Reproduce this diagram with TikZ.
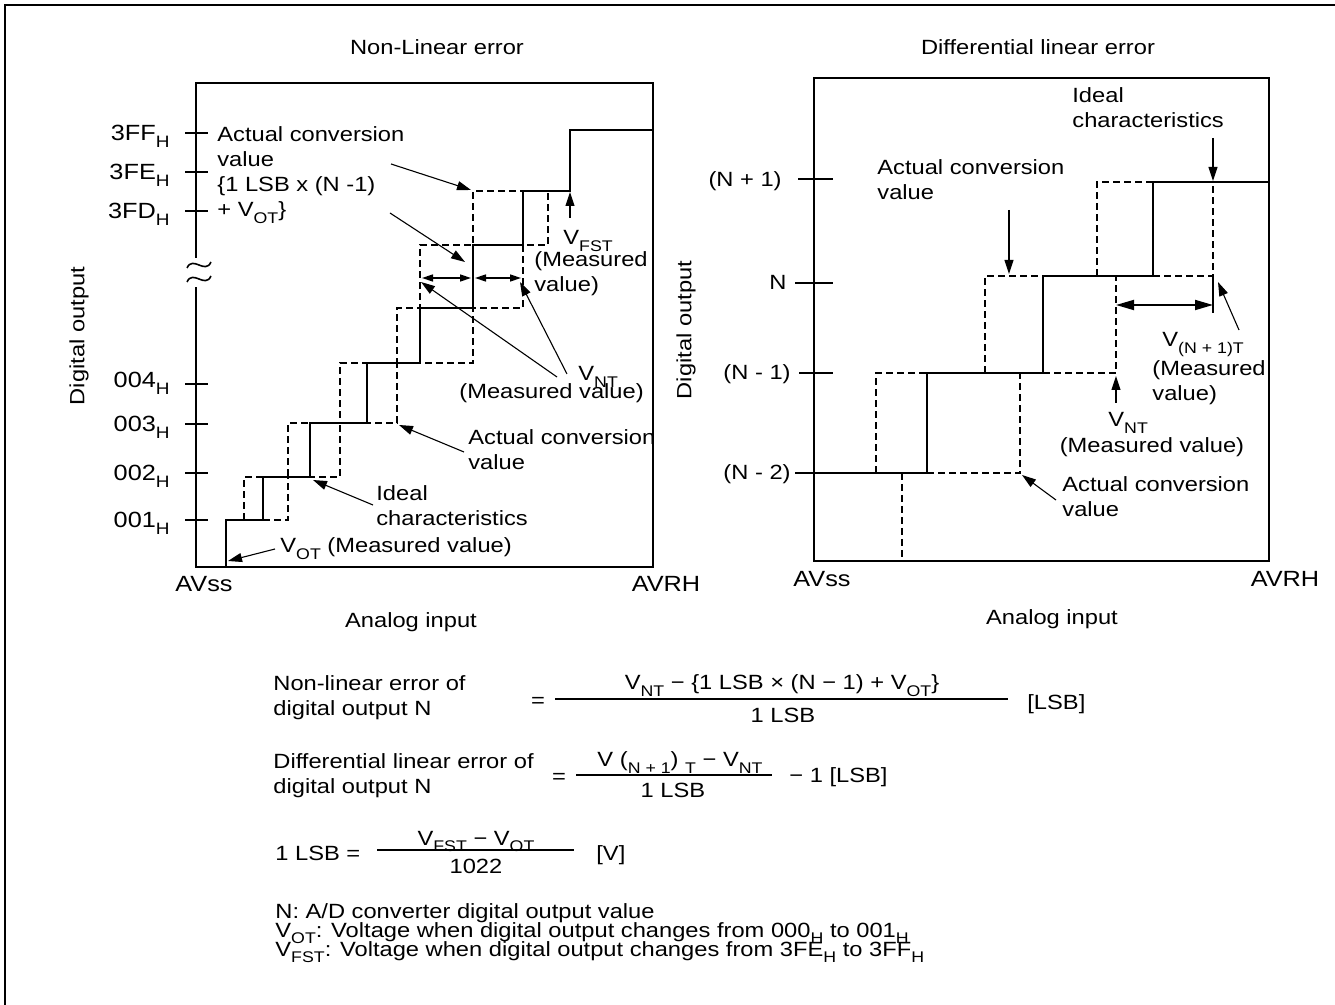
\documentclass[tikz,border=0pt]{standalone}
\usepackage{fontspec}
\setmainfont{Liberation Sans}[FakeStretch=1.15]
\usepackage{graphicx}
\usetikzlibrary{arrows.meta}

% sizes in pt: the picture runs at half a point per pixel
\newcommand{\lbltext}{\fontsize{10.3}{12.5}\selectfont}
\newcommand{\ticktext}{\fontsize{11}{13}\selectfont}
\newcommand{\sbs}[1]{\raisebox{-0.3em}{\scalebox{0.75}{#1}}}

\tikzset{
  frameline/.style={line width=1.2pt},
  plotbox/.style={line width=1.3pt},
  ideal/.style={line width=1.2pt},
  actual/.style={line width=0.9pt, dash pattern=on 3.5pt off 2pt},
  tickmark/.style={line width=1.2pt},
  pointer/.style={line width=0.55pt, -{Triangle[length=7pt,width=4.5pt]}},
  span/.style={line width=0.8pt, {Triangle[length=5.5pt,width=3.5pt]}-{Triangle[length=5.5pt,width=3.5pt]}},
  bigspan/.style={line width=0.9pt, {Triangle[length=9pt,width=5pt]}-{Triangle[length=9pt,width=5pt]}},
  lbl/.style={inner sep=0pt, font=\lbltext},
  ticklbl/.style={inner sep=0pt, font=\ticktext, anchor=base east},
}

\begin{document}
\begin{tikzpicture}[x=0.5pt,y=-0.5pt]
  \useasboundingbox (0,0) rectangle (1335,1005);
  \draw[frameline] (1335,5) -- (5,5) -- (5,1005);

  % ---------- Non-Linear error ----------
  \node[lbl, anchor=base] (nltitle) at (437,55) {Non-Linear error};
  \draw[plotbox] (196,258) -- (196,83) -- (653,83) -- (653,567) -- (196,567) -- (196,287);
  \foreach \c in {265,279}
    \draw[line width=0.8pt] (187,\c+3) .. controls (193,\c-10) and (205,\c+10) .. (211,\c-3);
  \foreach \y in {133,172,211,384,424,473,520}
    \draw[tickmark] (185,\y) -- (208,\y);
  \node[ticklbl] (nl3ff) at (170,141) {3FF\sbs{H}};
  \node[ticklbl] (nl3fe) at (170,180) {3FE\sbs{H}};
  \node[ticklbl] (nl3fd) at (170,219) {3FD\sbs{H}};
  \node[ticklbl] (nl004) at (170,388) {004\sbs{H}};
  \node[ticklbl] (nl003) at (170,432) {003\sbs{H}};
  \node[ticklbl] (nl002) at (170,481) {002\sbs{H}};
  \node[ticklbl] (nl001) at (170,528) {001\sbs{H}};
  \node[lbl, rotate=90] (nldigital) at (79,336) {Digital output};
  \node[ticklbl, anchor=base] (nlavss) at (204,592) {AVss};
  \node[ticklbl, anchor=base] (nlavrh) at (666,592) {AVRH};
  \node[lbl, anchor=base] (nlanalog) at (411,628) {Analog input};

  \draw[actual] (244,520) -- (244,477) -- (288,477) -- (288,423) -- (340,423) -- (340,363)
    -- (397,363) -- (397,308) -- (420,308) -- (420,245) -- (473,245) -- (473,191) -- (525,191);
  \draw[actual] (263,520) -- (288,520) -- (288,477) -- (340,477) -- (340,423) -- (397,423)
    -- (397,363) -- (473,363) -- (473,308) -- (523,308) -- (523,245) -- (548,245) -- (548,191);
  \draw[ideal] (226,567) -- (226,520) -- (263,520) -- (263,477) -- (310,477) -- (310,423)
    -- (367,423) -- (367,363) -- (420,363) -- (420,308) -- (473,308) -- (473,245)
    -- (523,245) -- (523,191) -- (570,191) -- (570,130) -- (653,130);

  % multi-line labels sit on their last baseline
  \node[lbl, anchor=base west, align=left] (nlactual) at (217,217)
    {Actual conversion\\value\\\{1 LSB x (N -1)\\+ V\sbs{OT}\}};
  \node[lbl, anchor=base west] (nlvfst) at (563,245) {V\sbs{FST}};
  \node[lbl, anchor=base west, align=left] (nlvfstm) at (534,292) {(Measured\\value)};
  \node[lbl, anchor=base west] (nlvnt) at (578,381) {V\sbs{NT}};
  \node[lbl, anchor=base west] (nlvntm) at (459,399) {(Measured value)};
  \node[lbl, anchor=base west, align=left] (nlactual2) at (468,470) {Actual conversion\\value};
  \node[lbl, anchor=base west, align=left] (nlideal) at (376,526) {Ideal\\characteristics};
  \node[lbl, anchor=base west] (nlvot) at (280,553) {V\sbs{OT} (Measured value)};

  \coordinate (nlp1s) at (391,164);  \coordinate (nlp1e) at (471,190);
  \coordinate (nlp2s) at (390,213);  \coordinate (nlp2e) at (465,262);
  \coordinate (nlw1) at (422,278);   \coordinate (nlw2) at (471,278);
  \coordinate (nlw3) at (475,278);   \coordinate (nlw4) at (521,278);
  \coordinate (nlq1s) at (557,377);  \coordinate (nlq1e) at (421,282);
  \coordinate (nlq2s) at (567,374);  \coordinate (nlq2e) at (520,282);
  \coordinate (nlfs) at (570,218);   \coordinate (nlfe) at (570,192);
  \coordinate (nlas) at (464,452);   \coordinate (nlae) at (399,425);
  \coordinate (nlis) at (373,505);   \coordinate (nlie) at (313,480);
  \coordinate (nlos) at (275,549);   \coordinate (nloe) at (228,561);
  \draw[pointer] (nlp1s) -- (nlp1e);
  \draw[pointer] (nlp2s) -- (nlp2e);
  \draw[span] (nlw1) -- (nlw2);
  \draw[span] (nlw3) -- (nlw4);
  \draw[pointer] (nlq1s) -- (nlq1e);
  \draw[pointer] (nlq2s) -- (nlq2e);
  \draw[pointer] (nlfs) -- (nlfe);
  \draw[pointer] (nlas) -- (nlae);
  \draw[pointer] (nlis) -- (nlie);
  \draw[pointer] (nlos) -- (nloe);

  % ---------- Differential linear error ----------
  \node[lbl, anchor=base] (dltitle) at (1038,55) {Differential linear error};
  \draw[plotbox] (814,78) rectangle (1269,561);
  \draw[tickmark] (798,179) -- (833,179);
  \draw[tickmark] (795,283) -- (833,283);
  \draw[tickmark] (799,373) -- (833,373);
  \node[lbl, anchor=base east] (dlnp1) at (782,187) {(N + 1)};
  \node[lbl, anchor=base east] (dln) at (787,290) {N};
  \node[lbl, anchor=base east] (dlnm1) at (791,380) {(N - 1)};
  \node[lbl, anchor=base east] (dlnm2) at (791,480) {(N - 2)};
  \node[lbl, rotate=90] (dldigital) at (686,330) {Digital output};
  \node[ticklbl, anchor=base] (dlavss) at (822,587) {AVss};
  \node[ticklbl, anchor=base] (dlavrh) at (1285,587) {AVRH};
  \node[lbl, anchor=base] (dlanalog) at (1052,625) {Analog input};

  \draw[actual] (876,473) -- (876,373) -- (927,373);
  \draw[actual] (902,473) -- (902,561);
  \draw[actual] (927,473) -- (1020,473) -- (1020,373);
  \draw[actual] (985,373) -- (985,276) -- (1043,276);
  \draw[actual] (1043,373) -- (1116,373) -- (1116,276);
  \draw[actual] (1097,276) -- (1097,182) -- (1153,182);
  \draw[actual] (1153,276) -- (1213,276) -- (1213,182);
  \draw[ideal] (795,473) -- (927,473) -- (927,373) -- (1043,373) -- (1043,276) -- (1153,276);
  \draw[line width=0.6pt] (1153,276) -- (1153,182);
  \draw[ideal] (1153,182) -- (1269,182);
  \draw[line width=1pt] (1213,276) -- (1213,313);

  \node[lbl, anchor=base west, align=left] (dlideal) at (1072,128) {Ideal\\characteristics};
  \node[lbl, anchor=base west, align=left] (dlactual) at (877,200) {Actual conversion\\value};
  \node[lbl, anchor=base west] (dlvn1) at (1162,347) {V\sbs{(N + 1)T}};
  \node[lbl, anchor=base west, align=left] (dlvn1m) at (1152,401) {(Measured\\value)};
  \node[lbl, anchor=base west] (dlvnt) at (1108,427) {V\sbs{NT}};
  \node[lbl, anchor=base] (dlvntm) at (1152,453) {(Measured value)};
  \node[lbl, anchor=base west, align=left] (dlactual2) at (1062,517) {Actual conversion\\value};

  \coordinate (dlis) at (1213,138);  \coordinate (dlie) at (1213,181);
  \coordinate (dlas) at (1009,210);  \coordinate (dlae) at (1009,274);
  \coordinate (dlw1) at (1116,305);  \coordinate (dlw2) at (1213,305);
  \coordinate (dlqs) at (1239,330);  \coordinate (dlqe) at (1218,282);
  \coordinate (dlts) at (1116,403);  \coordinate (dlte) at (1116,376);
  \coordinate (dlbs) at (1056,500);  \coordinate (dlbe) at (1022,475);
  \draw[pointer] (dlis) -- (dlie);
  \draw[pointer] (dlas) -- (dlae);
  \draw[bigspan] (dlw1) -- (dlw2);
  \draw[pointer] (dlqs) -- (dlqe);
  \draw[pointer] (dlts) -- (dlte);
  \draw[pointer] (dlbs) -- (dlbe);

  % ---------- formulas ----------
  \node[lbl, anchor=base west, align=left] (fnl) at (273,716) {Non-linear error of\\digital output N};
  \node[lbl] (fnleq) at (538,702) {=};
  \draw[line width=1pt] (555,699) -- (1008,699);
  \node[lbl, anchor=base] (fnlnum) at (782,690) {V\sbs{NT} − \{1 LSB ×  (N − 1)  + V\sbs{OT}\}};
  \node[lbl, anchor=base] (fnlden) at (783,723) {1 LSB};
  \node[lbl, anchor=base west] (fnlunit) at (1027,710) {[LSB]};

  \node[lbl, anchor=base west, align=left] (fdl) at (273,793) {Differential linear error of\\digital output N};
  \node[lbl] (fdleq) at (559,778) {=};
  \draw[line width=1pt] (576,775) -- (772,775);
  \node[lbl, anchor=base] (fdlnum) at (680,767) {V (\sbs{N + 1}) \sbs{T} − V\sbs{NT}};
  \node[lbl, anchor=base] (fdlden) at (673,798) {1 LSB};
  \node[lbl, anchor=base west] (fdlunit) at (789,783) {− 1 [LSB]};

  \node[lbl, anchor=base west] (flsb) at (275,860) {1 LSB =};
  \draw[line width=1pt] (377,850) -- (574,850);
  \node[lbl, anchor=base] (flsbnum) at (476,845) {V\sbs{FST} − V\sbs{OT}};
  \node[lbl, anchor=base] (flsbden) at (476,873) {1022};
  \node[lbl, anchor=base west] (flsbunit) at (596,861) {[V]};

  \node[lbl, anchor=base west] (legn) at (275,918) {N: A/D converter digital output value};
  \node[lbl, anchor=base west] (legvot) at (275,937) {V\sbs{OT}: Voltage when digital output changes from 000\sbs{H} to 001\sbs{H}};
  \node[lbl, anchor=base west] (legfst) at (275,956) {V\sbs{FST}: Voltage when digital output changes from 3FE\sbs{H} to 3FF\sbs{H}};
\end{tikzpicture}
\end{document}
